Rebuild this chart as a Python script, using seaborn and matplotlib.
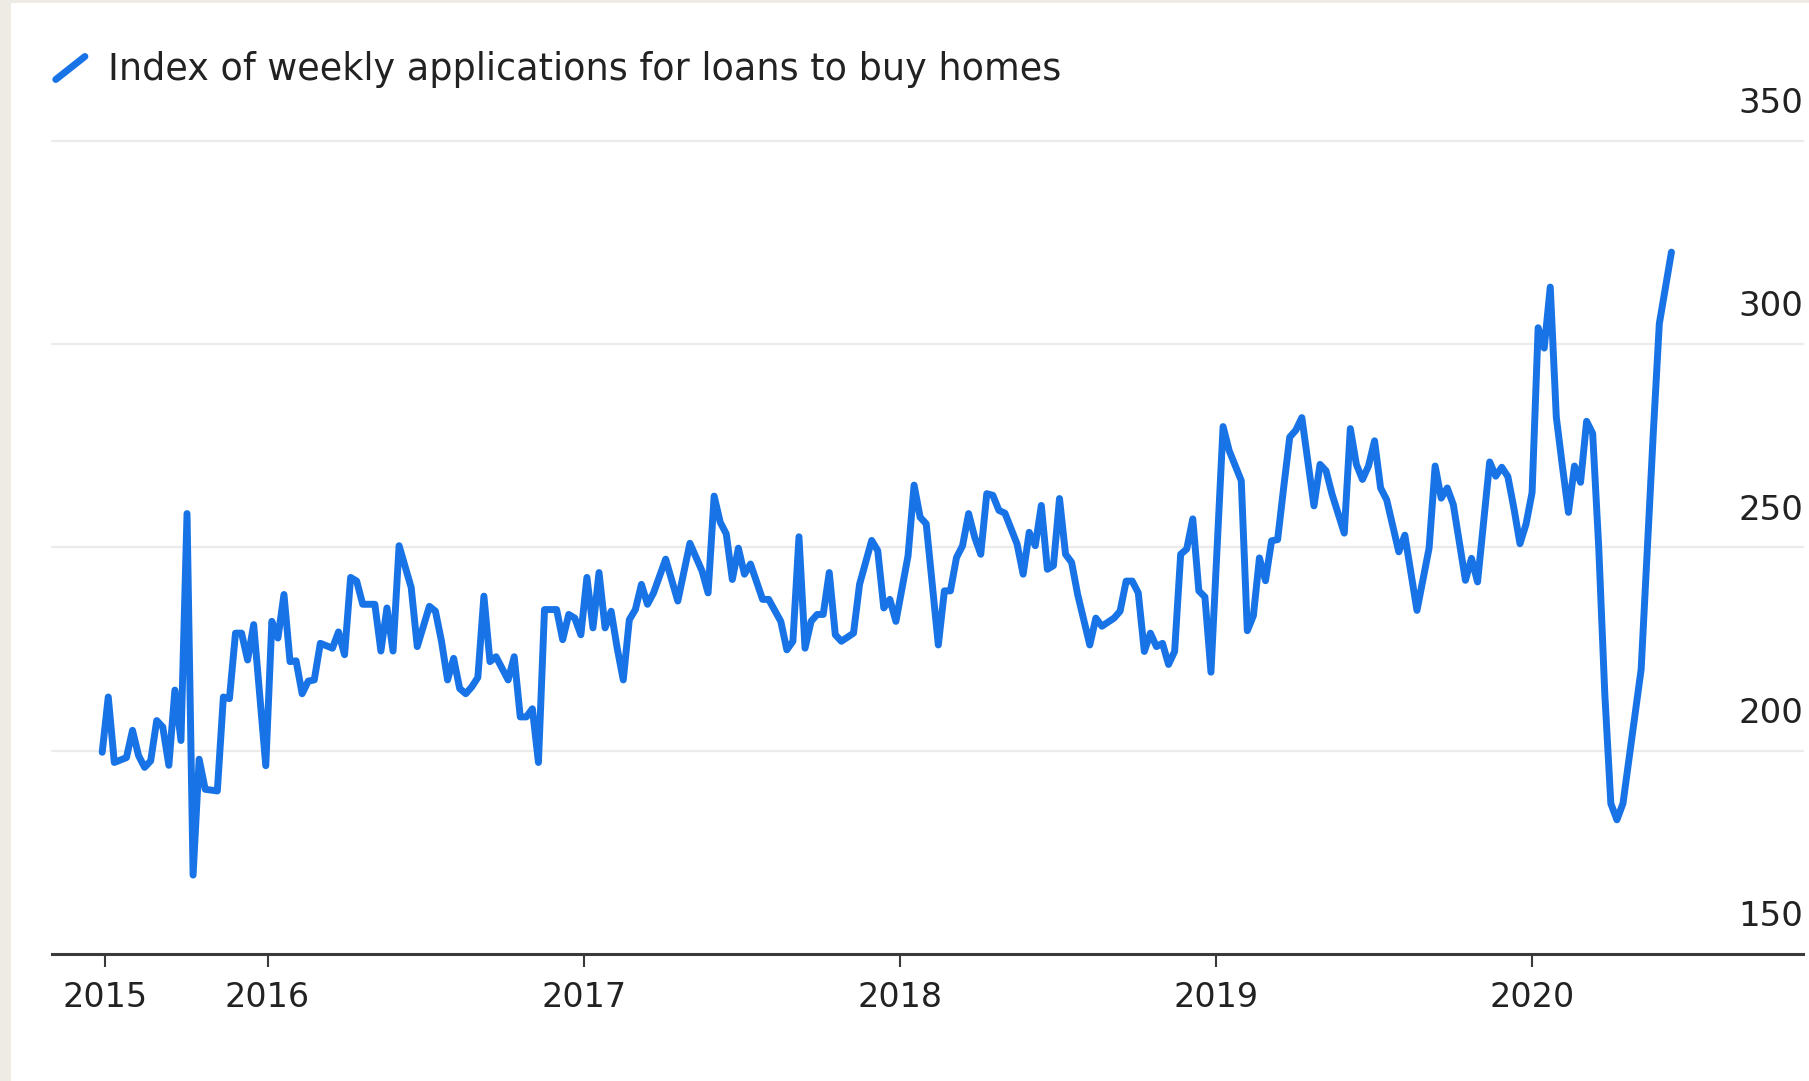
import numpy as np
import pandas as pd
import matplotlib
matplotlib.use("Agg")
import matplotlib.pyplot as plt
import matplotlib.transforms as mtransforms
from matplotlib.lines import Line2D
from matplotlib.patches import Rectangle
from matplotlib.legend_handler import HandlerBase
import seaborn as sns

# ---------------- data ----------------
series_label = "Index of weekly applications for loans to buy homes"
start_date = "2015-06-24"   # first weekly observation

week_offsets = [
    0, 1, 2, 4, 5, 6, 7, 8, 9, 10, 11, 12, 13, 14, 15, 16, 17, 19, 20, 21, 22, 23, 24, 25, 27, 28, 29, 30,
    31, 32, 33, 34, 35, 36, 38, 39, 40, 41, 42,
    43, 45, 46, 47, 48, 49, 51, 52, 54, 55, 56, 57, 58, 59, 60, 61, 62, 63, 64, 65, 67, 68, 69, 70, 71, 72,
    73, 75, 76, 77, 78, 79, 80, 81, 82, 83, 84, 85, 86, 87, 88,
    89, 90, 91, 93, 95, 97, 99, 100, 101, 102, 103, 104, 105, 106, 107, 109, 110, 112, 113, 114, 115, 116,
    117, 118, 119, 120, 121, 122, 124, 125, 127, 128, 129, 130, 131, 133, 134, 135, 136, 138,
    139, 140, 141, 142, 143, 144, 145, 146, 147, 148, 149, 151, 152, 153, 154, 155, 156, 157, 158, 159, 160,
    161, 163, 164, 165, 167, 168, 169, 170, 171, 172, 173, 174, 175, 176, 177, 178, 179,
    180, 181, 182, 183, 185, 186, 188, 189, 190, 191, 192, 193, 194, 195, 196, 197, 198, 200, 201, 202, 203,
    205, 206, 207, 208, 209, 210, 211, 212, 214, 215, 217, 219, 220, 221, 222, 223, 225, 226, 227,
    229, 230, 231, 232, 233, 234, 235, 236, 237, 238, 239, 240, 241, 242, 243, 244, 245, 246, 247, 248, 249,
    250, 251, 253, 254, 255, 256, 257, 259,
]

index_values = [
    199.6, 213.2, 197.1, 198.3, 205.0, 198.8, 195.9, 197.5, 207.4, 205.8, 196.4, 214.9, 202.5, 258.3, 169.4,
    197.9, 190.5, 190.1, 213.2, 212.8, 228.9, 228.9, 222.3, 231.0, 196.3, 231.8, 227.7, 238.4,
    221.9, 222.1, 214.0, 217.1, 217.4, 226.4, 225.2, 229.2, 223.6, 242.6, 241.7,
    236.0, 236.0, 224.5, 235.1, 224.5, 250.4, 240.1, 225.6, 235.5, 234.3, 226.9, 217.4, 222.7, 215.3, 214.0,
    215.7, 218.0, 238.0, 221.9, 223.1, 217.4, 223.1, 208.3, 208.3, 210.3, 197.1,
    234.7, 234.7, 227.3, 233.5, 232.6, 228.5, 242.6, 230.2, 243.8, 230.2, 234.3, 225.2, 217.4, 232.2, 234.7,
    240.9, 236.0, 238.8, 247.1, 236.8, 251.0, 244.2, 238.8, 262.6, 256.2, 253.3, 242.1, 249.8, 243.4, 245.9,
    237.2, 237.2, 231.8, 224.8, 226.9, 252.6, 225.2,
    231.8, 233.5, 233.5, 243.8, 228.5, 226.9, 228.9, 240.9, 251.7, 249.2, 235.1, 237.2, 231.8, 247.9, 265.3,
    257.4, 255.8, 226.0,
    239.3, 239.3, 247.5, 250.4, 258.3, 252.5, 248.3, 263.2, 262.8, 259.1, 258.4, 250.8, 243.4, 253.7, 250.4,
    260.3, 244.6, 245.5, 262.0, 248.3, 246.3,
    238.4, 226.0, 232.6, 230.6, 232.6, 234.3, 241.7, 241.7, 238.8, 224.4, 228.9, 225.6, 226.4, 221.2, 224.4,
    248.3, 249.6,
    257.0, 239.3, 237.8, 219.3, 279.7, 273.8, 266.4, 229.5, 233.2, 247.4, 241.8, 251.6, 251.9, 264.7, 277.1,
    278.8, 281.9, 260.2, 270.4, 268.8, 263.0,
    253.5, 279.2, 270.4, 266.7, 270.0, 276.2, 264.6, 261.7, 248.9, 253.0, 234.5, 249.8, 270.0, 262.1, 264.6,
    260.5, 241.9, 247.3, 241.5,
    271.0, 267.5, 269.7, 267.4, 259.6, 250.9, 255.7, 263.5, 304.0, 299.0, 314.0, 282.0, 270.0, 258.6, 270.0,
    266.0, 281.0, 278.0, 250.0, 214.0, 187.0,
    183.0, 187.0, 209.0, 220.0, 249.0, 278.0, 305.0, 322.6,
]

x_tick_dates = ["2015-06-27", "2016-01-01", "2017-01-01", "2018-01-01", "2019-01-01", "2020-01-01"]
x_tick_labels = ["2015", "2016", "2017", "2018", "2019", "2020"]
y_ticks = [150, 200, 250, 300, 350]
y_tick_labels = ["150", "200", "250", "300", "350"]

# ---------------- frame ----------------
dates = pd.to_datetime(start_date) + pd.to_timedelta(np.array(week_offsets) * 7, unit="D")
df = pd.DataFrame({"date": dates, "value": index_values})

sns.set_theme(style="white")
plt.rcParams["font.family"] = ["DejaVu Sans"]

W, H = 1809, 1081
fig = plt.figure(figsize=(W / 100, H / 100), dpi=100)
fig.patch.set_facecolor("#eeebe4")
fig.add_artist(Rectangle((11 / W, 0), 1 - 11 / W, 1 - 3 / H, transform=fig.transFigure,
                         facecolor="white", edgecolor="none", zorder=-5))

ax = fig.add_axes([52 / W, 1 - 954 / H, (1803 - 52) / W, (954 - 140.7) / H])
ax.set_facecolor("none")

line_color = "#1773e6"
sns.lineplot(data=df, x="date", y="value", ax=ax, color=line_color, linewidth=5.0,
             label=series_label, solid_joinstyle="round", solid_capstyle="round", zorder=3)

ax.set_ylim(150, 350)
ax.set_xlim(pd.Timestamp("2015-04-27"), pd.Timestamp("2020-11-09"))

# gridlines
for v in y_ticks[1:]:
    ax.axhline(v, color="#ebebeb", linewidth=1.6, zorder=1, clip_on=False)

for s in ["top", "left", "right"]:
    ax.spines[s].set_visible(False)
ax.spines["bottom"].set_color("#3a3a3a")
ax.spines["bottom"].set_linewidth(2.2)
ax.spines["bottom"].set_zorder(4)

# x ticks
ax.set_xticks(pd.to_datetime(x_tick_dates))
ax.set_xticklabels(x_tick_labels)
ax.tick_params(axis="x", direction="out", length=9.5, width=1.5, color="#3a3a3a",
               pad=10, labelsize=24, labelcolor="#222222", bottom=True)

# y labels: inside, right aligned, sitting above gridlines
ax.set_yticks([])
ax.set_ylabel("")
ax.set_xlabel("")
lab_trans = mtransforms.blended_transform_factory(ax.transAxes, ax.transData) + \
    mtransforms.ScaledTranslation(0, 15 / 72, fig.dpi_scale_trans)
for v, t in zip(y_ticks, y_tick_labels):
    ax.text(1.0, v, t, transform=lab_trans, ha="right", va="bottom",
            fontsize=24.5, color="#222222")


# legend with diagonal stroke icon
class DiagHandler(HandlerBase):
    def create_artists(self, legend, orig_handle, xdescent, ydescent, width, height, fontsize, trans):
        ln = Line2D([0.08 * width, 0.92 * width], [0.0 * height, 0.9 * height],
                    color=line_color, linewidth=5, solid_capstyle="round", transform=trans)
        return [ln]


handles, labels = ax.get_legend_handles_labels()
ax.legend(handles, labels, handler_map={type(handles[0]): DiagHandler()},
          loc="center left", bbox_to_anchor=(53 / W, 1 - 69 / H), bbox_transform=fig.transFigure,
          frameon=False, fontsize=26.3, handlelength=0.95, handletextpad=0.55,
          borderpad=0, borderaxespad=0, labelcolor="#222222")

fig.savefig("out.png", dpi=100, facecolor=fig.get_facecolor())
